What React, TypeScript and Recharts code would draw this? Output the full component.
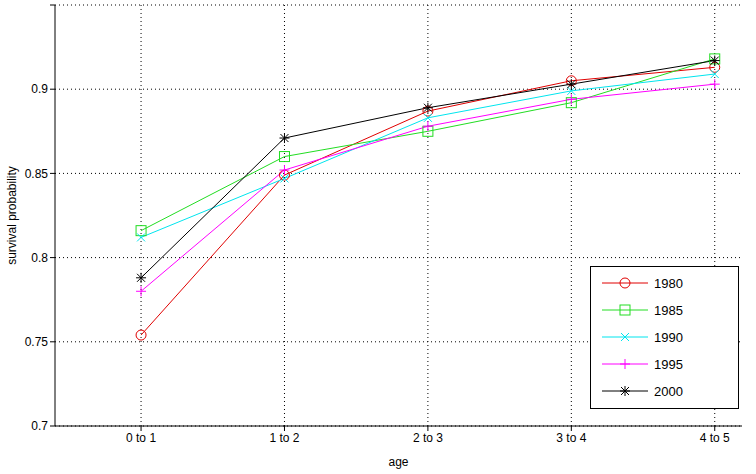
import React from "react";
import { LineChart, Line, XAxis, YAxis, CartesianGrid, Label } from "recharts";

const ages = [1, 2, 3, 4, 5];
const ageLabels = ["0 to 1", "1 to 2", "2 to 3", "3 to 4", "4 to 5"];
const s1980 = [0.754, 0.849, 0.887, 0.905, 0.913];
const s1985 = [0.816, 0.86, 0.875, 0.892, 0.918];
const s1990 = [0.812, 0.847, 0.883, 0.899, 0.909];
const s1995 = [0.78, 0.852, 0.878, 0.894, 0.903];
const s2000 = [0.788, 0.871, 0.889, 0.903, 0.917];
const yTicks = [0.7, 0.75, 0.8, 0.85, 0.9, 0.95];

const series = [
  { key: "1980", color: "#e00000", marker: "o", values: s1980 },
  { key: "1985", color: "#22dd22", marker: "s", values: s1985 },
  { key: "1990", color: "#00e5ee", marker: "x", values: s1990 },
  { key: "1995", color: "#ff00ff", marker: "+", values: s1995 },
  { key: "2000", color: "#000000", marker: "*", values: s2000 },
];

const data = ages.map((a, i) => {
  const row: Record<string, number> = { age: a };
  series.forEach((s) => (row[s.key] = s.values[i]));
  return row;
});

function Marker({ x, y, kind, color }: { x: number; y: number; kind: string; color: string }) {
  const r = 5;
  if (kind === "o") return <circle cx={x} cy={y} r={r} fill="none" stroke={color} />;
  if (kind === "s") return <rect x={x - r} y={y - r} width={2 * r} height={2 * r} fill="none" stroke={color} />;
  const d = 4;
  const plus = `M${x - r},${y}H${x + r}M${x},${y - r}V${y + r}`;
  const cross = `M${x - d},${y - d}L${x + d},${y + d}M${x - d},${y + d}L${x + d},${y - d}`;
  const path = kind === "x" ? cross : kind === "+" ? plus : plus + cross;
  return <path d={path} stroke={color} fill="none" />;
}

function LegendBox() {
  return (
    <svg width={149} height={143} style={{ display: "block" }}>
      <rect x={0.5} y={0.5} width={148} height={142} fill="#fff" stroke="#000" />
      {series.map((s, i) => {
        const y = 17 + i * 27;
        return (
          <g key={s.key}>
            <line x1={12} x2={58} y1={y} y2={y} stroke={s.color} />
            <Marker x={35} y={y} kind={s.marker} color={s.color} />
            <text x={64} y={y + 5} fontSize={13} fill="#000" fontFamily="Liberation Sans, Arial">{s.key}</text>
          </g>
        );
      })}
    </svg>
  );
}

export default function App() {
  return (
    <div style={{ position: "absolute", left: 0, top: 0, background: "#fff", width: 756, height: 474 }}>
      <LineChart width={756} height={474} data={data} margin={{ top: 5, right: 14, left: 0, bottom: 0 }}
        style={{ fontFamily: "Liberation Sans, Arial", fontSize: 12 }}>
        <CartesianGrid stroke="#000" strokeDasharray="1 3" horizontalValues={yTicks} verticalValues={ages} />
        <XAxis dataKey="age" type="number" domain={[0.4, 5.19]} ticks={ages} height={48}
          tickFormatter={(v: number) => ageLabels[v - 1]} stroke="#000" tick={{ fill: "#000" }} tickSize={5}>
          <Label value="age" position="insideBottom" offset={8} fill="#000" />
        </XAxis>
        <XAxis xAxisId="top" dataKey="age" type="number" domain={[0.4, 5.19]} ticks={ages} orientation="top"
          height={0} tick={false} stroke="#000" />
        <YAxis type="number" domain={[0.7, 0.95]} ticks={yTicks} width={55} stroke="#000" tickSize={5}
          tick={{ fill: "#000" }} tickFormatter={(v: number) => (v === 0.95 ? "" : String(v))}>
          <Label value="survival probability" angle={-90} position="insideLeft" offset={12} style={{ textAnchor: "middle" }} fill="#000" />
        </YAxis>
        <YAxis yAxisId="right" orientation="right" type="number" domain={[0.7, 0.95]} ticks={yTicks} width={0}
          tick={false} stroke="#000" />
        {series.map((s) => (
          <Line key={s.key} dataKey={s.key} stroke={s.color} strokeWidth={1} isAnimationActive={false}
            dot={(p: any) => <Marker key={p.index} x={p.cx} y={p.cy} kind={s.marker} color={s.color} />} />
        ))}
      </LineChart>
      <div style={{ position: "absolute", left: 590, top: 266 }}>
        <LegendBox />
      </div>
    </div>
  );
}
